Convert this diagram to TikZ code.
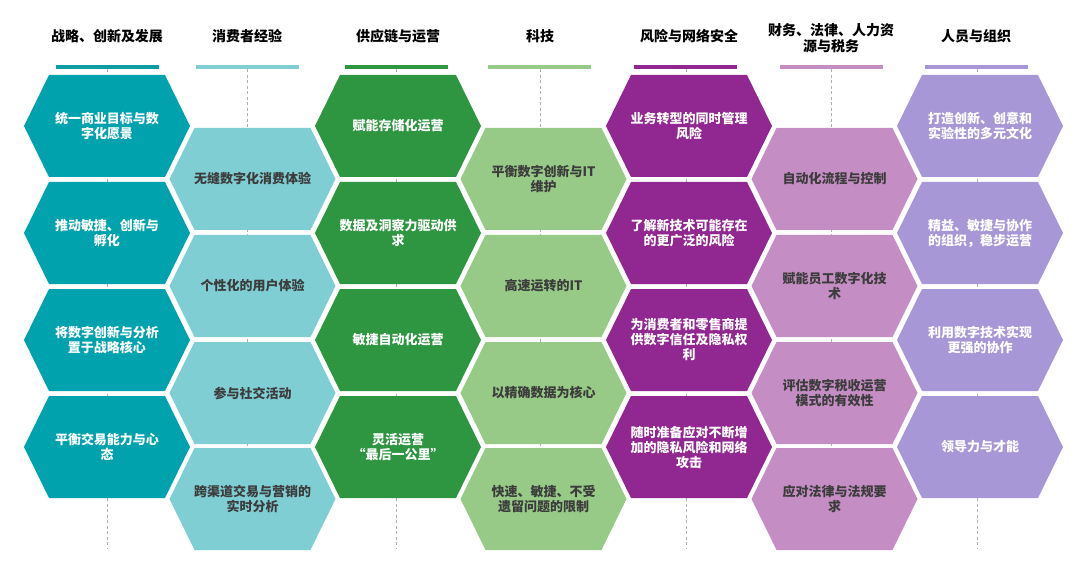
\documentclass[tikz,border=0pt]{standalone}
\usepackage{fontspec}
\setmainfont{Noto Sans CJK SC}
\definecolor{cA}{HTML}{00A2AE}
\definecolor{cAb}{HTML}{0E9CA3}
\definecolor{cB}{HTML}{7FCED4}
\definecolor{cC}{HTML}{2E9540}
\definecolor{cD}{HTML}{97CA86}
\definecolor{cE}{HTML}{912790}
\definecolor{cF}{HTML}{C48DC3}
\definecolor{cG}{HTML}{A897D6}
\definecolor{darktxt}{HTML}{3C3C3C}
\definecolor{guidec}{HTML}{A7B4C0}
\newcommand\hexcell[6]{%
  \fill[#4] ({#2-83},#3) -- ({#2-58},{#3-51}) -- ({#2+58},{#3-51}) -- ({#2+83},#3)
    -- ({#2+58},{#3+51}) -- ({#2-58},{#3+51}) -- cycle;
  \node[celltext,text=#5] (#1) at (#2,#3) {#6};}
\begin{document}
\begin{tikzpicture}[x=1pt,y=-1pt,
  celltext/.style={align=center,inner sep=0pt,font=\fontsize{13}{15}\selectfont\bfseries},
  headtext/.style={align=center,inner sep=0pt,font=\fontsize{14}{15.5}\selectfont\bfseries,text=black},
  barbox/.style={minimum width=103pt,minimum height=4.5pt,inner sep=0pt,draw=none},
  guide/.style={draw=guidec,line width=0.6pt,dash pattern=on 3pt off 2.5pt}]
\useasboundingbox (0,0) rectangle (1080,567);
% headers
\node[headtext] (h1) at (107,36) {战略、创新及发展};
\node[headtext] (h2) at (247,36) {消费者经验};
\node[headtext] (h3) at (398,36) {供应链与运营};
\node[headtext] (h4) at (540,36) {科技};
\node[headtext] (h5) at (689,36) {风险与网络安全};
\node[headtext] (h6) at (831,38) {财务、法律、人力资\\源与税务};
\node[headtext] (h7) at (976,36) {人员与组织};
% bars
\node[barbox,fill=cAb] (b1) at (107,67) {};
\node[barbox,fill=cB] (b2) at (247,67) {};
\node[barbox,fill=cC] (b3) at (396,67) {};
\node[barbox,fill=cD] (b4) at (539,67) {};
\node[barbox,fill=cE] (b5) at (685,67) {};
\node[barbox,fill=cF] (b6) at (831,67) {};
\node[barbox,fill=cG] (b7) at (976,67) {};
% guide lines
\coordinate (e1) at (107,548);
\coordinate (e2) at (247,548);
\coordinate (e3) at (396,548);
\coordinate (e4) at (540,548);
\coordinate (e5) at (686,548);
\coordinate (e6) at (831,548);
\coordinate (e7) at (977,548);
\draw[guide] (b1.south -| e1) -- (e1);
\draw[guide] (b2.south -| e2) -- (e2);
\draw[guide] (b3.south -| e3) -- (e3);
\draw[guide] (b4.south -| e4) -- (e4);
\draw[guide] (b5.south -| e5) -- (e5);
\draw[guide] (b6.south -| e6) -- (e6);
\draw[guide] (b7.south -| e7) -- (e7);
% column 1
\hexcell{a1}{107}{126}{cA}{white}{统一商业目标与数\\字化愿景}
\hexcell{a2}{107}{233}{cA}{white}{推动敏捷、创新与\\孵化}
\hexcell{a3}{107}{340}{cA}{white}{将数字创新与分析\\置于战略核心}
\hexcell{a4}{107}{447}{cA}{white}{平衡交易能力与心\\态}
% column 2
\hexcell{b1c}{252.5}{179}{cB}{darktxt}{无缝数字化消费体验}
\hexcell{b2c}{252.5}{286}{cB}{darktxt}{个性化的用户体验}
\hexcell{b3c}{252.5}{393}{cB}{darktxt}{参与社交活动}
\hexcell{b4c}{252.5}{499}{cB}{darktxt}{跨渠道交易与营销的\\实时分析}
% column 3
\hexcell{c1}{398}{126}{cC}{white}{赋能存储化运营}
\hexcell{c2}{398}{233}{cC}{white}{数据及洞察力驱动供\\求}
\hexcell{c3}{398}{340}{cC}{white}{敏捷自动化运营}
\hexcell{c4}{398}{447}{cC}{white}{灵活运营\\“最后一公里”}
% column 4
\hexcell{d1}{543.5}{179}{cD}{darktxt}{平衡数字创新与IT\\维护}
\hexcell{d2}{543.5}{286}{cD}{darktxt}{高速运转的IT}
\hexcell{d3}{543.5}{393}{cD}{darktxt}{以精确数据为核心}
\hexcell{d4}{543.5}{499}{cD}{darktxt}{快速、敏捷、不受\\遗留问题的限制}
% column 5
\hexcell{f1}{689}{126}{cE}{white}{业务转型的同时管理\\风险}
\hexcell{f2}{689}{233}{cE}{white}{了解新技术可能存在\\的更广泛的风险}
\hexcell{f3}{689}{340}{cE}{white}{为消费者和零售商提\\供数字信任及隐私权\\利}
\hexcell{f4}{689}{447}{cE}{white}{随时准备应对不断增\\加的隐私风险和网络\\攻击}
% column 6
\hexcell{g1}{834.5}{179}{cF}{darktxt}{自动化流程与控制}
\hexcell{g2}{834.5}{286}{cF}{darktxt}{赋能员工数字化技\\术}
\hexcell{g3}{834.5}{393}{cF}{darktxt}{评估数字税收运营\\模式的有效性}
\hexcell{g4}{834.5}{499}{cF}{darktxt}{应对法律与法规要\\求}
% column 7
\hexcell{k1}{980}{126}{cG}{white}{打造创新、创意和\\实验性的多元文化}
\hexcell{k2}{980}{233}{cG}{white}{精益、敏捷与协作\\的组织，稳步运营}
\hexcell{k3}{980}{340}{cG}{white}{利用数字技术实现\\更强的协作}
\hexcell{k4}{980}{447}{cG}{white}{领导力与才能}
\end{tikzpicture}
\end{document}
